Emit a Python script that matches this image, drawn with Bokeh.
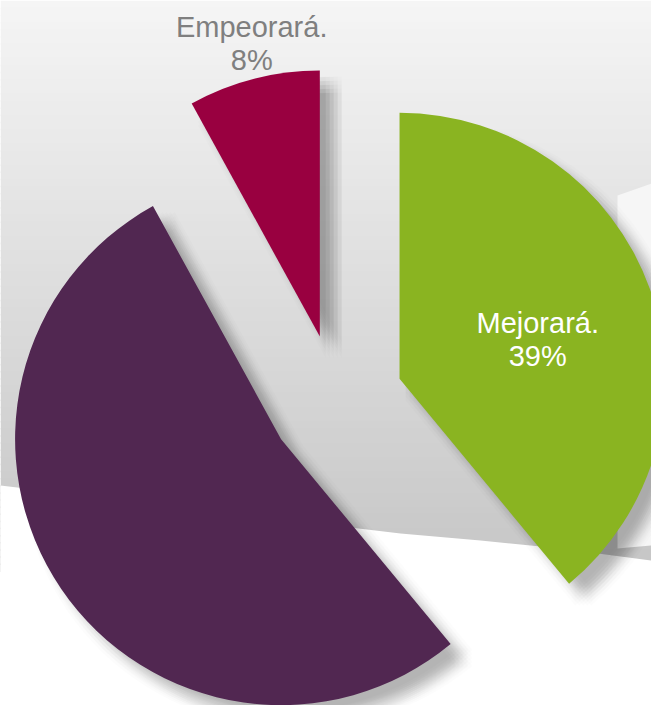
import numpy as np
from bokeh.plotting import figure
from bokeh.models import ColumnDataSource
from bokeh.embed import file_html
from bokeh.resources import INLINE
from bokeh.core.properties import value

# ---- data -------------------------------------------------------------
categories = ["Mejorará.", "Seguirá igual.", "Empeorará."]
shares = [39, 53, 8]
colors = ["#8AB421", "#512751", "#990040"]
show_label = [True, False, True]
label_colors = ["#FFFFFF", "#FFFFFF", "#7F7F7F"]
label_radius = [0.54, 0.6, 1.13]     # fraction of radius
label_angle_tweak = [-4.0, 0.0, -1.3]  # degrees

# ---- figure -------------------------------------------------------------
W, H = 651, 705
p = figure(width=W, height=H, x_range=(0, W), y_range=(0, H), min_border=0,
           toolbar_location=None, output_backend="svg",
           x_axis_location=None, y_axis_location=None)
p.grid.visible = False
p.outline_line_color = None
p.background_fill_color = "white"
p.border_fill_color = "white"


def X(ix):
    return ix


def Y(iy):
    return H - iy


# ---- decorative background ----------------------------------------------
n = 80
edges = np.linspace(0, 570, n + 1)
cols = []
for i in range(n):
    t = (edges[i] + edges[i + 1]) / 2 / 570
    v = int(round(0xF5 + (0xC6 - 0xF5) * t))
    cols.append("#%02x%02x%02x" % (v, v, v))
p.quad(left=0, right=W, top=[Y(e) for e in edges[:-1]],
       bottom=[Y(e) - 1.5 for e in edges[1:]], fill_color=cols, line_color=None)
p.patch(x=[X(v) for v in [0, 400, 480, 560, 651, 651, 0]],
        y=[Y(v) for v in [485, 533, 540, 548, 560, 705, 705]],
        color="white", line_color=None)
p.patch(x=[X(v) for v in [617, 651, 651, 617]],
        y=[Y(v) for v in [195, 183, 545, 548]],
        color="#f6f6f6", line_color=None)

# ---- pie geometry -------------------------------------------------------
Cx, Cy = X(336), Y(401)
R = 266
explode = 67

starts, ends, cxs, cys, mids = [], [], [], [], []
cum = 0.0
for s in shares:
    a0 = 90 - cum * 3.6
    a1 = a0 - s * 3.6
    mid = np.radians((a0 + a1) / 2)
    starts.append(np.radians(a1))
    ends.append(np.radians(a0))
    cxs.append(Cx + explode * np.cos(mid))
    cys.append(Cy + explode * np.sin(mid))
    mids.append((a0 + a1) / 2)
    cum += s

# soft drop shadows
for dx in (-8, -4, 0, 4, 8):
    for dy in (-8, -4, 0, 4, 8):
        p.wedge(x=[c + 14 + dx for c in cxs], y=[c - 14 + dy for c in cys],
                radius=R, start_angle=starts, end_angle=ends,
                direction="anticlock", fill_color="black", fill_alpha=0.013,
                line_color=None)

src = ColumnDataSource(dict(x=cxs, y=cys, start=starts, end=ends, color=colors))
p.wedge(x="x", y="y", radius=R, start_angle="start", end_angle="end",
        direction="anticlock", fill_color="color", line_color=None, source=src)

# ---- labels -------------------------------------------------------------
lx, ly, names, pcts, lcols = [], [], [], [], []
for i, name in enumerate(categories):
    if not show_label[i]:
        continue
    ang = np.radians(mids[i] + label_angle_tweak[i])
    lx.append(cxs[i] + label_radius[i] * R * np.cos(ang))
    ly.append(cys[i] + label_radius[i] * R * np.sin(ang))
    names.append(name)
    pcts.append(f"{shares[i]}%")
    lcols.append(label_colors[i])

lsrc = ColumnDataSource(dict(x=lx, y=ly, name=names, pct=pcts, c=lcols))
common = dict(x="x", y="y", source=lsrc, text_color="c", text_align="center",
              text_baseline="middle", text_font=value("Liberation Sans"),
              text_font_size="29px")
p.text(text="name", y_offset=-17, **common)
p.text(text="pct", y_offset=16, **common)

open("out.html", "w").write(file_html(p, INLINE))
